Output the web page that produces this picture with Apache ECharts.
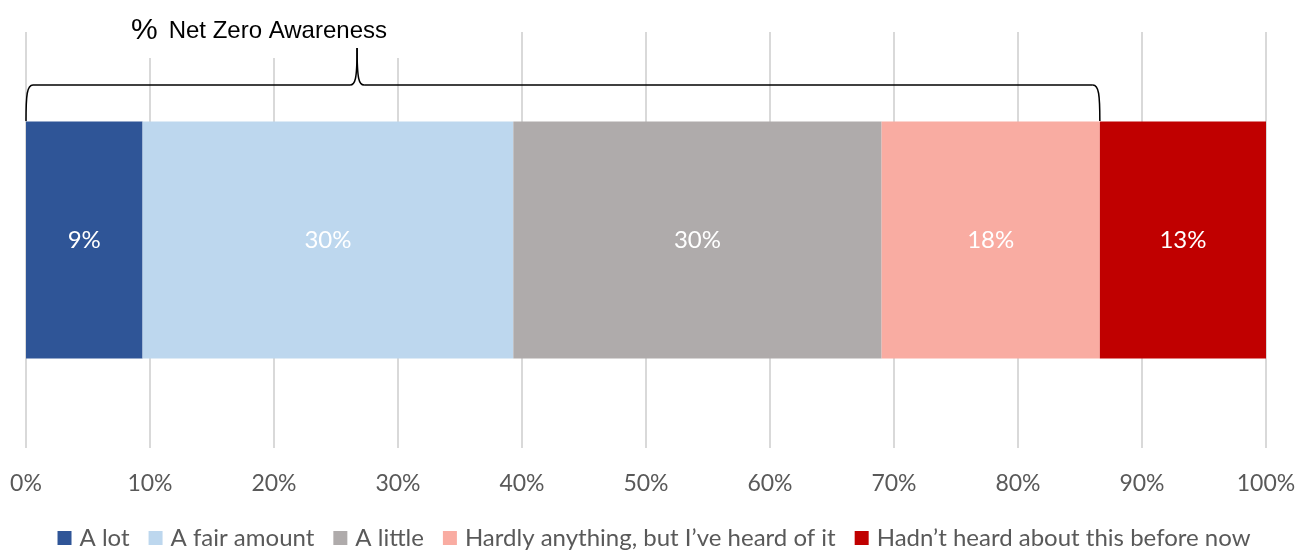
<!DOCTYPE html>
<html>
<head>
<meta charset="utf-8">
<script src="https://cdn.jsdelivr.net/npm/echarts@6/dist/echarts.min.js"></script>
<style>
  html, body { margin: 0; padding: 0; background: #fff; }
  #chart { width: 1308px; height: 552px; }
</style>
</head>
<body>
<div id="chart"></div>
<script>
// data
const categories = ['Net Zero Awareness'];
const seriesNames = ['A lot', 'A fair amount', 'A little', 'Hardly anything, but I\u2019ve heard of it', 'Hadn\u2019t heard about this before now'];
const seriesValues = [9.4, 29.9, 29.7, 17.6, 13.4];
const seriesLabels = ['9%', '30%', '30%', '18%', '13%'];
const colors = ['#2F5597', '#BDD7EE', '#AFABAB', '#F9ACA2', '#C00000'];
const tickLabels = ['0%', '10%', '20%', '30%', '40%', '50%', '60%', '70%', '80%', '90%', '100%'];
// brace spans the "aware" groups (first four), peak drawn at ~26.7%
const braceGroups = 4;
const bracePeak = 26.7;

const font = 'Lato, "Open Sans", sans-serif';
const chart = echarts.init(document.getElementById('chart'));

let series = seriesNames.map((name, i) => ({
    name: name,
    type: 'bar',
    stack: 'total',
    barWidth: '57%',
    itemStyle: { color: colors[i] },
    label: {
        show: true,
        position: 'inside',
        color: '#fff',
        fontSize: 24,
        fontFamily: font,
        formatter: () => seriesLabels[i]
    },
    emphasis: { disabled: true },
    data: [seriesValues[i]]
}));

let option = {
    animation: false,
    backgroundColor: '#fff',
    grid: { left: 26, right: 42, top: 32, bottom: 104 },
    legend: {
        bottom: -3,
        left: 'center',
        icon: 'rect',
        itemWidth: 14,
        itemHeight: 14,
        itemGap: 19,
        textStyle: { color: '#595959', fontSize: 24, fontFamily: font, padding: [0, 0, 0, 3] },
        data: seriesNames
    },
    xAxis: {
        type: 'value',
        min: 0,
        max: 100,
        interval: 10,
        axisLine: { show: false },
        axisTick: { show: false },
        splitLine: { lineStyle: { color: '#D9D9D9', width: 2 } },
        axisLabel: {
            color: '#595959',
            fontSize: 23,
            fontFamily: font,
            margin: 24,
            formatter: (v) => tickLabels[Math.round(v / 10)]
        }
    },
    yAxis: {
        type: 'category',
        data: categories,
        show: false
    },
    series: series
};
chart.setOption(option);

// brace annotation, placed through the axis scale
let awareTotal = seriesValues.slice(0, braceGroups).reduce((a, b) => a + b, 0);
let x0 = chart.convertToPixel({ gridIndex: 0 }, [0, 0])[0];
let x1 = chart.convertToPixel({ gridIndex: 0 }, [awareTotal, 0])[0];
let xp = chart.convertToPixel({ gridIndex: 0 }, [bracePeak, 0])[0];
let yBar = 121, yLine = 85, yTip = 48;
let braceStyle = { fill: null, stroke: '#000', lineWidth: 1.5 };

function curve(a, b, c1, c2) {
    return {
        type: 'bezierCurve',
        shape: { x1: a[0], y1: a[1], x2: b[0], y2: b[1], cpx1: c1[0], cpy1: c1[1], cpx2: c2[0], cpy2: c2[1] },
        style: braceStyle,
        z: 60
    };
}
function seg(a, b) {
    return {
        type: 'line',
        shape: { x1: a[0], y1: a[1], x2: b[0], y2: b[1] },
        style: braceStyle,
        z: 60
    };
}

chart.setOption({
    graphic: [
        {
            type: 'rect',
            shape: { x: 100, y: 0, width: 300, height: 58 },
            style: { fill: '#fff' },
            z: 50
        },
        curve([x0, yBar], [x0 + 7, yLine], [x0, yLine + 10], [x0 + 1, yLine]),
        seg([x0 + 7, yLine], [xp - 7, yLine]),
        curve([xp - 7, yLine], [xp, yTip], [xp - 2, yLine], [xp, yLine - 5]),
        curve([xp, yTip], [xp + 7, yLine], [xp, yLine - 5], [xp + 2, yLine]),
        seg([xp + 7, yLine], [x1 - 7, yLine]),
        curve([x1 - 7, yLine], [x1, yBar], [x1 - 1, yLine], [x1, yLine + 10]),
        {
            type: 'text',
            x: 131,
            y: 31,
            style: {
                text: '{p|%}{t|Net Zero Awareness}',
                verticalAlign: 'middle',
                rich: {
                    p: { fontSize: 30, fontFamily: 'Liberation Sans, Arial, sans-serif', fill: '#000' },
                    t: { fontSize: 24, fontFamily: 'Liberation Sans, Arial, sans-serif', fill: '#000', padding: [0, 0, 0, 11] }
                }
            },
            z: 60
        }
    ]
});
</script>
</body>
</html>
